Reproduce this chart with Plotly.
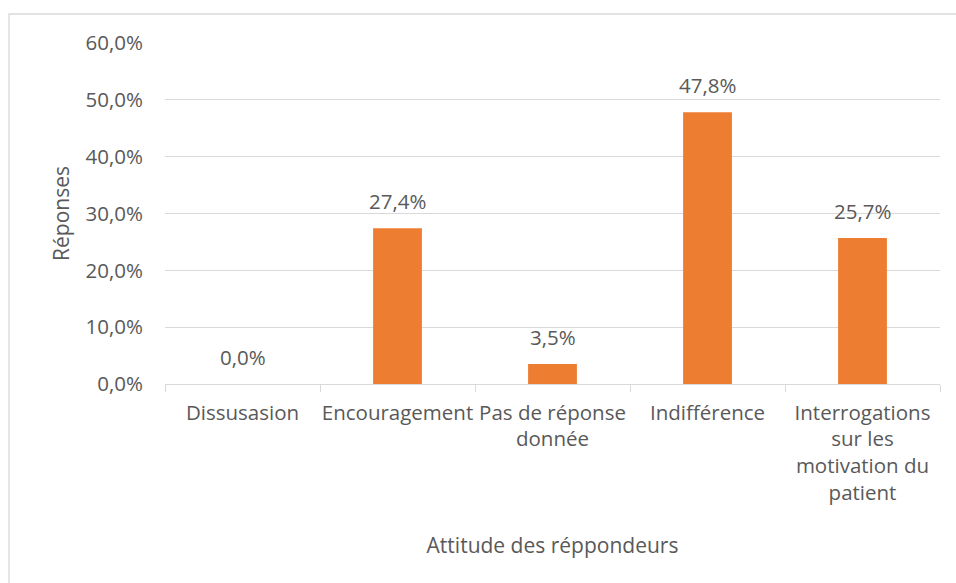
import plotly.graph_objects as go

categories = ["Dissusasion", "Encouragement", "Pas de réponse<br>donnée", "Indifférence",
              "Interrogations<br>sur les<br>motivation du<br>patient"]
values = [0.0, 0.274, 0.035, 0.478, 0.257]
y_ticks = [0, 0.1, 0.2, 0.3, 0.4, 0.5, 0.6]

GRAY = "#595959"
GRID = "#d9d9d9"
FONT = "Open Sans"

fig = go.Figure(go.Bar(
    x=categories, y=values,
    marker=dict(color="#ED7D31", line=dict(width=0)),
    hoverinfo="x+y",
))

# data labels
for c, v in zip(categories, values):
    fig.add_annotation(x=c, y=v, text=f"{v*100:.1f}%".replace(".", ","),
                       showarrow=False, yanchor="bottom", yshift=11,
                       font=dict(color=GRAY, size=20.5, family=FONT))

plot_l, plot_r, plot_t, plot_b = 165, 940, 43, 384
W, H = 956, 583
pw, ph = plot_r - plot_l, plot_b - plot_t

fig.update_layout(
    width=W, height=H,
    margin=dict(l=plot_l, r=W - plot_r, t=plot_t, b=H - plot_b, autoexpand=False),
    paper_bgcolor="white", plot_bgcolor="white",
    separators=", ",
    bargap=0.685,
    showlegend=False,
    font=dict(family=FONT, color=GRAY, size=20),
    shapes=[dict(type="rect", xref="paper", yref="paper",
                 x0=(9 - plot_l) / pw, x1=(970 - plot_l) / pw,
                 y0=(plot_b - 620) / ph, y1=(plot_b - 14) / ph,
                 line=dict(color=GRID, width=1.3), fillcolor="rgba(0,0,0,0)", layer="below")],
)

fig.update_yaxes(
    range=[0, 0.6], tickvals=y_ticks, tickformat=".1%",
    showgrid=True, gridcolor=GRID, gridwidth=1.3, zeroline=False,
    showline=False, ticks="", ticklabelstandoff=21,
    tickfont=dict(size=20.5, color=GRAY, family=FONT),
    title=dict(text="Réponses", font=dict(size=21, color=GRAY, family=FONT), standoff=10),
    automargin=False,
)
fig.update_xaxes(
    showline=True, linecolor=GRID, linewidth=1.3,
    ticks="outside", tickson="boundaries", ticklen=7, tickcolor=GRID, tickwidth=1.3,
    tickangle=0, ticklabelstandoff=10,
    tickfont=dict(size=20.5, color=GRAY, family=FONT),
    title=dict(text="Attitude des réppondeurs", font=dict(size=21, color=GRAY, family=FONT), standoff=33),
    automargin=False,
)

fig.write_html("out.html", config={"displayModeBar": False},
               post_script="document.body.style.margin='0';document.body.style.overflow='hidden';")
